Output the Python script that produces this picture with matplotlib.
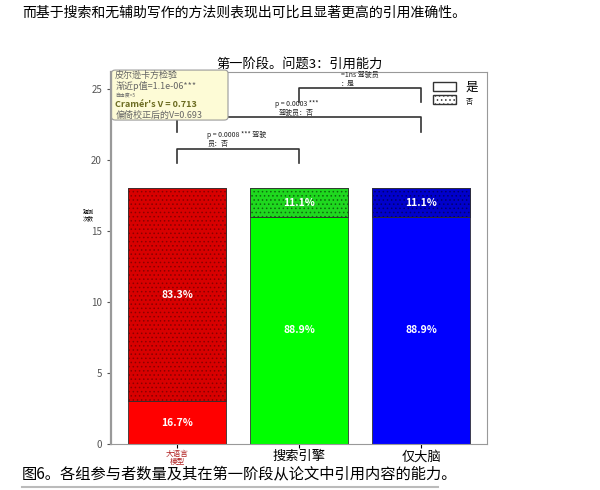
import matplotlib
matplotlib.use("Agg")
import matplotlib.pyplot as plt
from matplotlib.patches import FancyBboxPatch, Patch

plt.rcParams['font.family'] = ['Noto Sans CJK SC', 'DejaVu Sans']
plt.rcParams['hatch.linewidth'] = 0.6

groups = ["大语言\n模型", "搜索引擎", "仅大脑"]
yes_counts = [3, 16, 16]
no_counts = [15, 2, 2]
yes_colors = ["#ff0000", "#00ff00", "#0000ff"]
no_colors = ["#d80000", "#1fd81f", "#0000cc"]
hatch_colors = ["#8a0000", "#0d6b0d", "#000070"]
tick_colors = ["#b22222", "black", "black"]
tick_sizes = [5.5, 9.5, 9.5]

# significance brackets: (x1, x2, y, text, text_x, ha)
brackets = [
    (0, 1, 20.8, "p = 0.0008 *** 驾驶\n员：否", 0.25, "left"),
    (0, 2, 23.0, "p = 0.0003 ***\n驾驶员：否", 0.98, "center"),
    (1, 2, 25.07, "=1ns 驾驶员\n：是", 1.34, "left"),
]
stats_lines = ["皮尔逊卡方检验", "渐近p值=1.1e-06***", "自由度=5",
               "Cramér's V = 0.713", "偏倚校正后的V=0.693"]

fig = plt.figure(figsize=(6, 4.9), dpi=100)
ax = fig.add_axes([0.185, 0.094, 0.627, 0.759])

x = list(range(len(groups)))
totals = [a + b for a, b in zip(yes_counts, no_counts)]
ax.bar(x, yes_counts, width=0.8, color=yes_colors, edgecolor="#333333", linewidth=0.6)
for i in x:
    ax.bar(i, no_counts[i], bottom=yes_counts[i], width=0.8, color=no_colors[i],
           edgecolor=hatch_colors[i], linewidth=0.6, hatch="....")
    ax.bar(i, no_counts[i], bottom=yes_counts[i], width=0.8, color="none",
           edgecolor="#333333", linewidth=0.6)
    ax.text(i, yes_counts[i] / 2, f"{yes_counts[i] / totals[i] * 100:.1f}%",
            ha="center", va="center", color="white", fontsize=7.5, fontweight="bold")
    ax.text(i, yes_counts[i] + no_counts[i] / 2, f"{no_counts[i] / totals[i] * 100:.1f}%",
            ha="center", va="center", color="white", fontsize=7.5, fontweight="bold")

for x1, x2, y, txt, tx, ha in brackets:
    ax.plot([x1, x1, x2, x2], [y - 1.0, y, y, y - 1.0], color="#333333", lw=1.2)
    ax.text(tx, y + 0.05, txt, ha=ha, va="bottom", fontsize=5, color="#222222",
            linespacing=1.1)

ax.set_xlim(-0.54, 2.54)
ax.set_ylim(0, 26.2)
ax.set_xticks(x)
ax.set_xticklabels(groups)
for lbl, c, s in zip(ax.get_xticklabels(), tick_colors, tick_sizes):
    lbl.set_color(c)
    lbl.set_fontsize(s)
    lbl.set_linespacing(1.0)
ax.set_yticks([0, 5, 10, 15, 20, 25])
ax.tick_params(axis="y", labelsize=7, colors="#555555", length=3)
ax.tick_params(axis="x", length=3, pad=1.5)
for sp in ax.spines.values():
    sp.set_color("#999999")
ax.spines["left"].set_linewidth(1.6)
ax.set_title("第一阶段。问题3：引用能力", fontsize=9.5, pad=3)
fig.text(0.147, 0.56, "观测\n次数", fontsize=4, ha="center", va="center")

leg = ax.legend(handles=[Patch(facecolor="white", edgecolor="#333333", label="是"),
                         Patch(facecolor="white", edgecolor="#333333", hatch="....", label="否")],
                loc="upper right", frameon=False, handlelength=1.8, handleheight=0.7,
                fontsize=9, borderaxespad=0.3, labelspacing=0.1)
leg.get_texts()[1].set_fontsize(5)

# stats box
box = FancyBboxPatch((0.188, 0.757), 0.19, 0.098, boxstyle="round,pad=0.002,rounding_size=0.006",
                     transform=fig.transFigure, facecolor="#fdfbd6", edgecolor="#9a9a9a",
                     linewidth=0.8, zorder=5)
fig.patches.append(box)
ys = [0.846, 0.824, 0.806, 0.787, 0.765]
sizes = [6.5, 6.5, 3.5, 6.5, 6.5]
cols = ["#666666", "#666666", "#666666", "#6b6b20", "#666666"]
weights = ["normal", "normal", "normal", "bold", "normal"]
for t, yy, s, c, w in zip(stats_lines, ys, sizes, cols, weights):
    fig.text(0.192, yy, t, fontsize=s, color=c, fontweight=w, va="center", ha="left", zorder=6)

fig.text(0.037, 0.975, "而基于搜索和无辅助写作的方法则表现出可比且显著更高的引用准确性。",
         fontsize=10, ha="left", va="center")
fig.text(0.037, 0.033, "图6。各组参与者数量及其在第一阶段从论文中引用内容的能力。",
         fontsize=11, ha="left", va="center")
fig.add_artist(plt.Line2D([0.037, 0.73], [0.006, 0.006], color="#bbbbbb", lw=1.5,
                          transform=fig.transFigure))

fig.savefig("out.png", dpi=100, facecolor="white")
